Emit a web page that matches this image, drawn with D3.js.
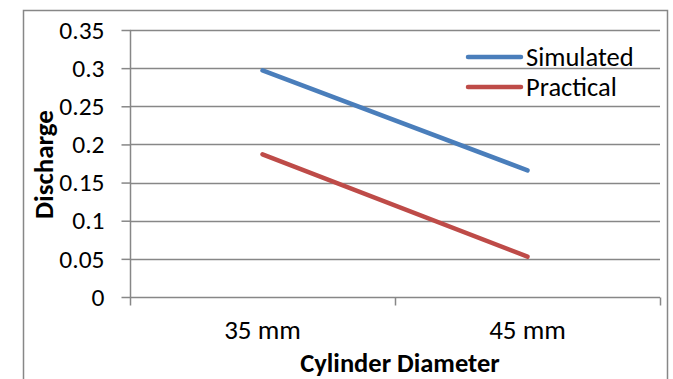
<!DOCTYPE html>
<html><head><meta charset="utf-8">
<script src="https://cdn.jsdelivr.net/npm/d3@7"></script>
<style>body{margin:0;background:#fff}svg{display:block}text{font-family:Carlito,Lato,"Open Sans",sans-serif;fill:#000}</style>
</head><body><svg id="c" width="673" height="379"></svg>
<script>
const categories = ["35 mm", "45 mm"];
const seriesNames = ["Simulated", "Practical"];
const simulated = [0.297, 0.166];
const practical = [0.187, 0.053];
const yTicks = [0, 0.05, 0.1, 0.15, 0.2, 0.25, 0.3, 0.35];
const colors = ["#4A7EBB", "#BE4B48"];

const svg = d3.select("#c");
const L = 130, R = 660, T = 30, B = 297;
svg.append("rect").attr("x",23.5).attr("y",10.5).attr("width",644).attr("height",400)
  .attr("fill","none").attr("stroke","#878787").attr("stroke-width",1.5);

const x = d3.scaleBand().domain(categories).range([L,R]);
const y = d3.scaleLinear().domain([0,0.35]).range([B,T]);

// gridlines
svg.append("g").selectAll("line").data(yTicks.filter(d=>d>0)).join("line")
  .attr("x1",L).attr("x2",R).attr("y1",d=>Math.round(y(d))+0.5).attr("y2",d=>Math.round(y(d))+0.5)
  .attr("stroke","#878787").attr("stroke-width",1.5);

// y axis
const ya = svg.append("g").attr("transform",`translate(${L+0.5},0)`)
  .call(d3.axisLeft(y).tickValues(yTicks).tickFormat(d=>d3.format("")(+d.toFixed(2))).tickSize(9).tickPadding(17));
ya.attr("font-size",null).attr("font-family",null);
ya.select(".domain").attr("stroke","#878787").attr("stroke-width",1.5).attr("d",`M0,${T}V${B}`);
ya.selectAll(".tick line").attr("stroke","#878787").attr("stroke-width",1.5);
ya.selectAll(".tick text").style("font-size","25.5px");

// x axis
const xa = svg.append("g").attr("transform",`translate(0,${B+0.5})`)
  .call(d3.axisBottom(x).tickSize(0).tickPadding(22));
xa.attr("font-size",null).attr("font-family",null);
xa.select(".domain").attr("stroke","#878787").attr("stroke-width",1.5).attr("d",`M${L},0H${R}`);
xa.selectAll(".tick text").style("font-size","27px");
// category boundary ticks
const bounds = [L, L + x.step(), R];
xa.append("g").selectAll("line").data(bounds).join("line")
  .attr("x1",d=>d+0.5).attr("x2",d=>d+0.5).attr("y1",0).attr("y2",8)
  .attr("stroke","#878787").attr("stroke-width",1.5);

// lines
const line = d3.line().x((d,i)=>x(categories[i])+x.bandwidth()/2).y(d=>y(d));
[simulated, practical].forEach((s,i)=>{
  svg.append("path").datum(s).attr("d",line).attr("fill","none")
    .attr("stroke",colors[i]).attr("stroke-width",4.5).attr("stroke-linecap","round");
});

// legend
const lg = svg.append("g");
seriesNames.forEach((n,i)=>{
  const ly = 57 + i*30;
  lg.append("line").attr("x1",468).attr("x2",521).attr("y1",ly).attr("y2",ly)
    .attr("stroke",colors[i]).attr("stroke-width",4.5).attr("stroke-linecap","round");
  lg.append("text").attr("x",526).attr("y",ly+9).style("font-size","26.5px").text(n);
});

// axis titles
svg.append("text").attr("x",400).attr("y",372).attr("text-anchor","middle")
  .style("font-size","26.5px").attr("font-weight","bold").text("Cylinder Diameter");
svg.append("text").attr("transform",`translate(53,${(T+B)/2 + 1}) rotate(-90)`).attr("text-anchor","middle")
  .style("font-size","27px").attr("font-weight","bold").text("Discharge");
</script></body></html>
